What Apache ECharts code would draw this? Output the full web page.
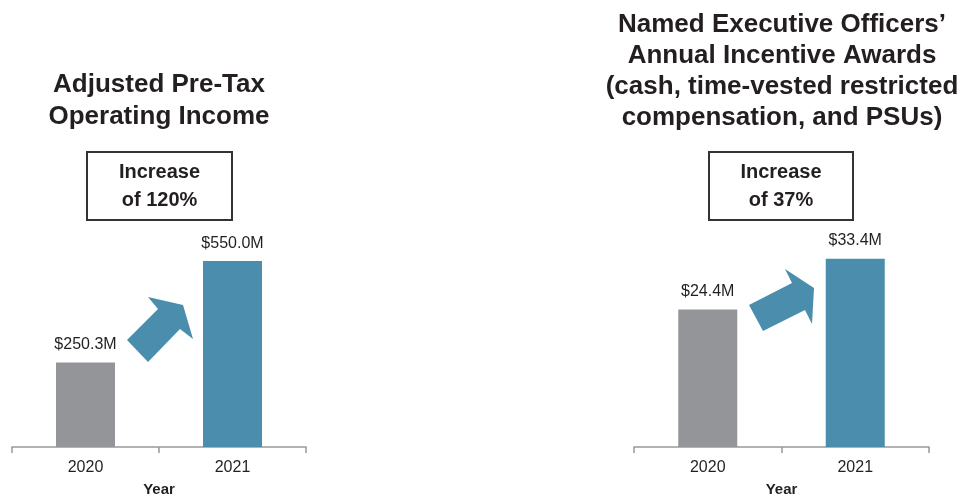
<!DOCTYPE html>
<html>
<head>
<meta charset="utf-8">
<script src="https://cdn.jsdelivr.net/npm/echarts@6/dist/echarts.min.js"></script>
<style>
  html, body { margin: 0; padding: 0; background: #fff; overflow: hidden; }
  #chart { width: 964px; height: 502px; }
</style>
</head>
<body>
<div id="chart"></div>
<script>
// data
var years = ['2020', '2021']
var incomeValues = [250.3, 550.0] // adjusted pre-tax operating income, $M
var awardValues = [24.4, 33.4] // NEO annual incentive awards, $M
var incomeTitle = 'Adjusted Pre-Tax\nOperating Income'
var awardTitle = 'Named Executive Officers’\nAnnual Incentive Awards\n(cash, time-vested restricted\ncompensation, and PSUs)'
var incomeBox = 'Increase\nof 120%'
var awardBox = 'Increase\nof 37%'

var GRAY = '#939598'
var BLUE = '#4a8dac'
var TEXT = '#231f20'
var FONT = '"Liberation Sans", Arial, Helvetica, sans-serif'

function barData (values) {
  return values.map(function (v, i) {
    return { value: v, itemStyle: { color: i === 0 ? GRAY : BLUE } }
  })
}

function money (p) {
  return '$' + p.value.toFixed(1) + 'M'
}

function xAxisFor (idx) {
  return {
    type: 'category',
    gridIndex: idx,
    data: years,
    name: 'Year',
    nameLocation: 'middle',
    nameGap: 35,
    nameTextStyle: { fontFamily: FONT, fontSize: 15, fontWeight: 'bold', color: TEXT },
    axisLine: { lineStyle: { color: '#999', width: 1.5 } },
    axisTick: { show: true, length: 6, lineStyle: { color: '#999', width: 1.5 } },
    axisLabel: { fontFamily: FONT, fontSize: 16, color: TEXT, margin: 13 }
  }
}

function yAxisFor (idx, max) {
  return {
    type: 'value',
    gridIndex: idx,
    min: 0,
    max: max,
    show: false,
    splitLine: { show: false }
  }
}

function barSeries (idx, values) {
  return {
    type: 'bar',
    xAxisIndex: idx,
    yAxisIndex: idx,
    barWidth: 59,
    data: barData(values),
    label: {
      show: true,
      position: 'top',
      distance: 10,
      formatter: money,
      fontFamily: FONT,
      fontSize: 16,
      color: TEXT
    },
    silent: true
  }
}

function titleText (x, y, text, lh) {
  return {
    type: 'text',
    x: x,
    y: y,
    style: {
      text: text,
      fontFamily: FONT,
      fontSize: 26,
      fontWeight: 'bold',
      lineHeight: lh,
      fill: TEXT,
      align: 'center',
      verticalAlign: 'middle'
    }
  }
}

function box (x, y, w, h, text) {
  return [
    {
      type: 'rect',
      shape: { x: x, y: y, width: w, height: h },
      style: { fill: '#fff', stroke: '#333', lineWidth: 2 }
    },
    {
      type: 'text',
      x: x + w / 2,
      y: y + h / 2,
      style: {
        text: text,
        fontFamily: FONT,
        fontSize: 20,
        fontWeight: 'bold',
        lineHeight: 28,
        fill: TEXT,
        align: 'center',
        verticalAlign: 'middle'
      }
    }
  ]
}

function arrow (points) {
  return { type: 'polygon', shape: { points: points }, style: { fill: BLUE } }
}

var chart = echarts.init(document.getElementById('chart'), null, { renderer: 'canvas', width: 964, height: 502 })
chart.setOption({
  animation: false,
  backgroundColor: '#fff',
  grid: [
    { left: 12, width: 294, top: 176.6, height: 276.4 },
    { left: 634, width: 295, top: 165.1, height: 288.9 }
  ],
  xAxis: [xAxisFor(0), xAxisFor(1)],
  yAxis: [yAxisFor(0, 800), yAxisFor(1, 50)],
  series: [barSeries(0, incomeValues), barSeries(1, awardValues)],
  graphic: [
    titleText(159, 101, incomeTitle, 32),
    titleText(782, 71.5, awardTitle, 31)
  ].concat(box(87, 152, 145, 68, incomeBox))
    .concat(box(709, 152, 144, 68, awardBox))
    .concat([
      arrow([[127, 340], [158, 309], [148, 297], [183, 305], [193, 339], [180, 329], [148, 362]]),
      arrow([[749, 305], [792, 283], [785, 269], [814, 288], [812, 324], [805, 310], [763, 331]])
    ])
})
</script>
</body>
</html>
